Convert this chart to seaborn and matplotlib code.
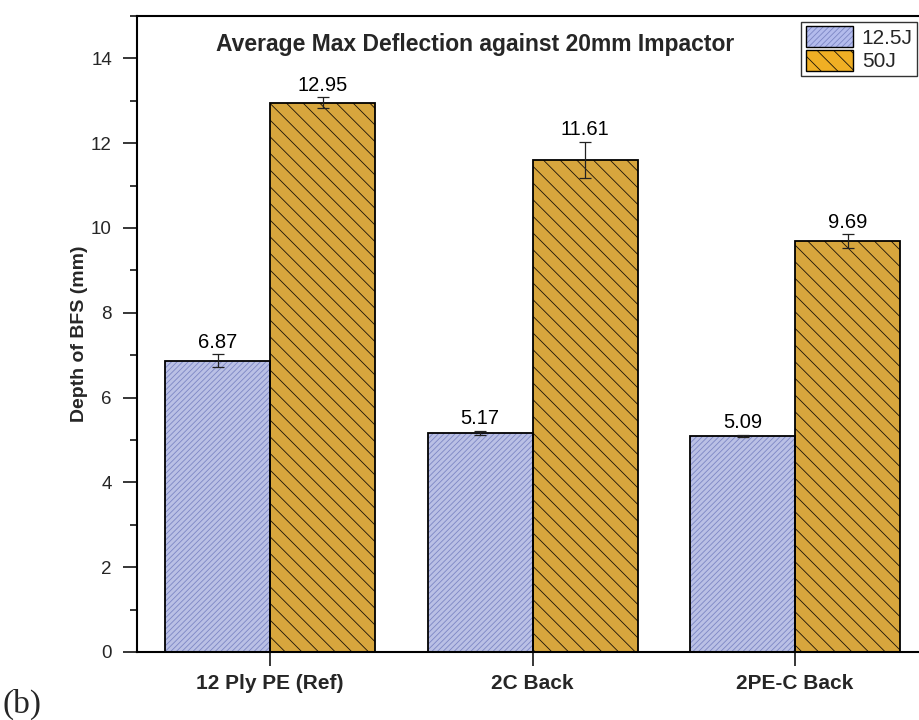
import matplotlib
matplotlib.use("Agg")
import matplotlib.pyplot as plt
import seaborn as sns
import pandas as pd
import numpy as np
from matplotlib.patches import Rectangle
from matplotlib.ticker import MultipleLocator
from matplotlib.legend_handler import HandlerTuple

categories = ["12 Ply PE (Ref)", "2C Back", "2PE-C Back"]
energies = ["12.5J", "50J"]
vals_125 = [6.87, 5.17, 5.09]
vals_50 = [12.95, 11.61, 9.69]
err_125 = [0.15, 0.05, 0.03]
err_50 = [0.13, 0.43, 0.16]
title = "Average Max Deflection against 20mm Impactor"
ylabel = "Depth of BFS (mm)"

sns.set_theme(style="white")
plt.rcParams['font.family'] = ['Liberation Sans', 'DejaVu Sans']
plt.rcParams['hatch.linewidth'] = 0.6

df = pd.DataFrame({
    "cat": categories * 2,
    "energy": [energies[0]] * 3 + [energies[1]] * 3,
    "val": vals_125 + vals_50,
})
errs = err_125 + err_50

fills = {"12.5J": "#B3BBEC", "50J": "#F0AF24"}
hatch_cols = {"12.5J": "#7C86C4", "50J": "#1a1208"}
hatches = {"12.5J": "//////", "50J": "\\\\"}

fig = plt.figure(figsize=(9.19, 7.2), dpi=100)
ax = fig.add_axes([137/919, 68/720, 1 - 137/919, (652-16)/720])

sns.barplot(data=df, x="cat", y="val", hue="energy", hue_order=energies,
            order=categories, palette=fills, errorbar=None, width=0.8,
            ax=ax, legend=False)

bars = [p for p in ax.patches if isinstance(p, Rectangle)]
for i, p in enumerate(bars):
    en = energies[i // 3]
    p.set_hatch(hatches[en])
    p.set_edgecolor(hatch_cols[en])
    p.set_linewidth(0)
    ax.add_patch(Rectangle((p.get_x(), p.get_y()), p.get_width(), p.get_height(),
                           fill=False, edgecolor="black", linewidth=1.3, zorder=3))
    cx = p.get_x() + p.get_width() / 2
    h = p.get_height()
    ax.errorbar(cx, h, yerr=errs[i], fmt="none", ecolor="#222222",
                elinewidth=0.9, capsize=4, capthick=0.9, zorder=4)
    ax.annotate(f"{h:.2f}", (cx, h + errs[i]), xytext=(0, 2),
                textcoords="offset points", ha="center", va="bottom",
                fontsize=14.5, color="black")

ax.set_ylim(0, 15)
ax.set_xlim(-0.507, (919 - 270) / 262.5)
ax.yaxis.set_minor_locator(MultipleLocator(1))
ax.set_yticks([0, 2, 4, 6, 8, 10, 12, 14])
ax.tick_params(axis="y", which="major", direction="out", length=10, width=1.3,
               labelsize=13.5, pad=8, left=True)
ax.tick_params(axis="y", which="minor", direction="out", length=5, width=1.3, left=True)
ax.tick_params(axis="x", which="major", direction="out", length=10, width=1.3,
               labelsize=15, pad=6, bottom=True)
for lab in ax.get_xticklabels():
    lab.set_fontweight("bold")
ax.set_xlabel("")
ax.set_ylabel(ylabel, fontsize=14, fontweight="bold", labelpad=2)

for s in ["left", "bottom", "top"]:
    ax.spines[s].set_visible(True)
    ax.spines[s].set_color("black")
    ax.spines[s].set_linewidth(1.5)
ax.spines["right"].set_visible(False)

fig.text(475/919, 1 - 45/720, title, ha="center", va="center",
         fontsize=16.5, fontweight="bold")

handles = [(Rectangle((0, 0), 1, 1, facecolor=fills[e], edgecolor=hatch_cols[e],
                      hatch=hatches[e], linewidth=0),
            Rectangle((0, 0), 1, 1, fill=False, edgecolor="black", linewidth=1.0))
           for e in energies]
leg = fig.legend(handles, energies, loc="upper right",
                 bbox_to_anchor=(917/919, 1 - 22/720), frameon=True, fontsize=15,
                 handlelength=2.3, handleheight=1.15, labelspacing=0.12,
                 handletextpad=0.4, borderpad=0.2, borderaxespad=0, fancybox=False,
                 handler_map={tuple: HandlerTuple(ndivide=1, pad=0)})
leg.get_frame().set_edgecolor("black")
leg.get_frame().set_linewidth(1.0)

fig.text(3/919, 1 - 713/720, "(b)", fontsize=24, family="Liberation Serif",
         ha="left", va="baseline")

fig.savefig("out.png", dpi=100, facecolor="white")
